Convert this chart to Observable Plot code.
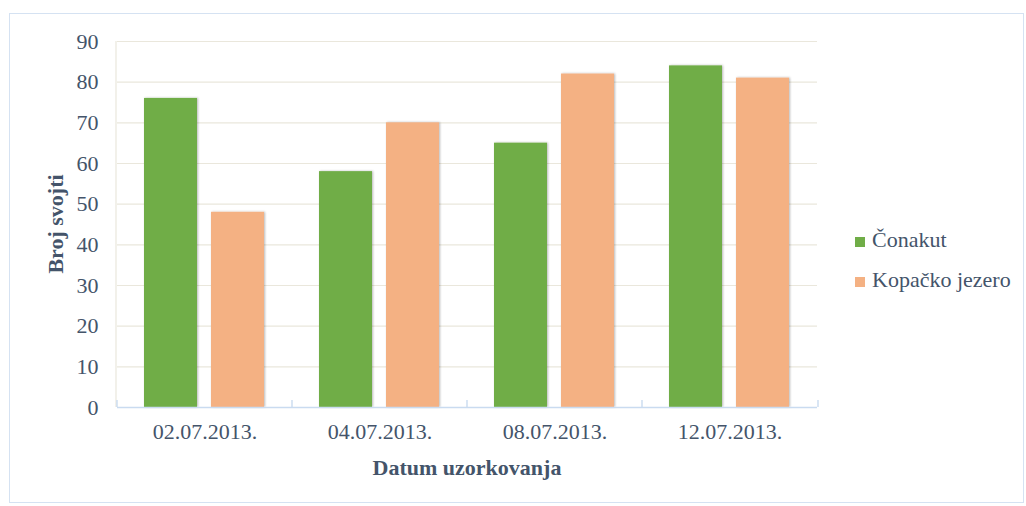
<!DOCTYPE html>
<html>
<head>
<meta charset="utf-8">
<script src="https://cdn.jsdelivr.net/npm/d3@7"></script>
<script src="https://cdn.jsdelivr.net/npm/@observablehq/plot@0.6"></script>
<style>
  html, body { margin: 0; padding: 0; background: #fff; }
  #wrap { position: relative; width: 1026px; height: 506px; overflow: hidden; font-family: "Liberation Serif", "Times New Roman", Times, "DejaVu Serif", serif; color: #44546A; }
  #border { position: absolute; left: 9px; top: 13px; width: 1015px; height: 490px; border: 1px solid #D5E2F2; box-sizing: border-box; }
  #chart { position: absolute; left: 0; top: 0; }
  #chart svg, #chart svg text, #legend text { font-family: "Liberation Serif", "Times New Roman", Times, "DejaVu Serif", serif; }
  #legend { position: absolute; left: 840px; top: 220px; }
</style>
</head>
<body>
<div id="wrap">
  <div id="border"></div>
  <div id="chart"></div>
  <svg id="legend" width="186" height="90"></svg>
</div>
<script>
const dates = ["02.07.2013.", "04.07.2013.", "08.07.2013.", "12.07.2013."];
const series = ["Čonakut", "Kopačko jezero"];
const conakut = [76, 58, 65, 84];
const kopacko = [48, 70, 82, 81];
const colors = ["#70AD47", "#F4B183"];
const yTicks = [0, 10, 20, 30, 40, 50, 60, 70, 80, 90];

const data = dates.flatMap((d, i) => [
  {date: d, site: series[0], value: conakut[i]},
  {date: d, site: series[1], value: kopacko[i]}
]);

const serif = "'Liberation Serif', 'Times New Roman', Times, 'DejaVu Serif', serif";
const textColor = "#44546A";

const plot = Plot.plot({
  width: 1026,
  height: 506,
  marginLeft: 116,
  marginRight: 208,
  marginTop: 41,
  marginBottom: 99,
  style: {fontFamily: serif, fontSize: "22px", color: textColor, background: "transparent", overflow: "visible"},
  fx: {domain: dates, padding: 0, label: null},
  x: {domain: series, paddingInner: 0.206, paddingOuter: 0.393, axis: null},
  y: {domain: [0, 90], label: null},
  color: {domain: series, range: colors},
  marks: [
    Plot.gridY(yTicks, {stroke: "#EAE7DC", strokeOpacity: 1, strokeWidth: 1.2}),
    Plot.barY(data, {fx: "date", x: "site", y: "value", fill: "site"}),
    Plot.ruleY([0], {stroke: "#C9DBF0", strokeWidth: 1.6}),
    Plot.axisY(yTicks, {tickSize: 0, tickPadding: 19, fontSize: 22, fill: textColor, label: null}),
    Plot.axisFx({anchor: "bottom", tickSize: 0, tickPadding: 16, fontSize: 22, fill: textColor, label: null})
  ]
});

document.getElementById("chart").appendChild(plot);

const svg = d3.select(plot);
// shadow for bars
const defs = svg.insert("defs", ":first-child");
const f = defs.append("filter").attr("id", "sh").attr("x", "-20%").attr("y", "-10%").attr("width", "140%").attr("height", "120%");
f.append("feDropShadow").attr("dx", 1).attr("dy", 0).attr("stdDeviation", 1.3).attr("flood-color", "#000").attr("flood-opacity", 0.28);
svg.selectAll("g[aria-label='bar']").attr("filter", "url(#sh)");

const fx = plot.scale("fx");
const y = plot.scale("y");
const x0 = fx.range[0], x1 = fx.range[1];
const yTop = y.apply(90), yBot = y.apply(0);
const extra = svg.append("g");
// left axis line
extra.append("line").attr("x1", x0).attr("x2", x0).attr("y1", yTop).attr("y2", yBot)
  .attr("stroke", "#EAE7DC").attr("stroke-width", 1.2);
// band separator ticks
const edges = fx.domain.map(d => fx.apply(d)).concat([x1]);
edges.forEach(e => {
  extra.append("line").attr("x1", e).attr("x2", e).attr("y1", yBot - 7).attr("y2", yBot)
    .attr("stroke", "#C9DBF0").attr("stroke-width", 1.4);
});
// axis titles
extra.append("text").attr("transform", `translate(63,${(yTop + yBot) / 2}) rotate(-90)`)
  .attr("text-anchor", "middle")
  .attr("font-weight", "bold").attr("font-size", 22).attr("fill", textColor).text("Broj svojti");
extra.append("text").attr("x", (x0 + x1) / 2).attr("y", 475)
  .attr("text-anchor", "middle")
  .attr("font-weight", "bold").attr("font-size", 22).attr("fill", textColor).text("Datum uzorkovanja");

// legend (positions relative to legend svg at 840,220)
const legend = d3.select("#legend");
series.forEach((s, i) => {
  const cy = 17 + i * 40;
  legend.append("rect").attr("x", 15).attr("y", cy).attr("width", 10).attr("height", 10).attr("fill", colors[i]);
  legend.append("text").attr("x", 32).attr("y", cy + 10).attr("font-size", 22).attr("fill", textColor).text(s);
});
</script>
</body>
</html>
